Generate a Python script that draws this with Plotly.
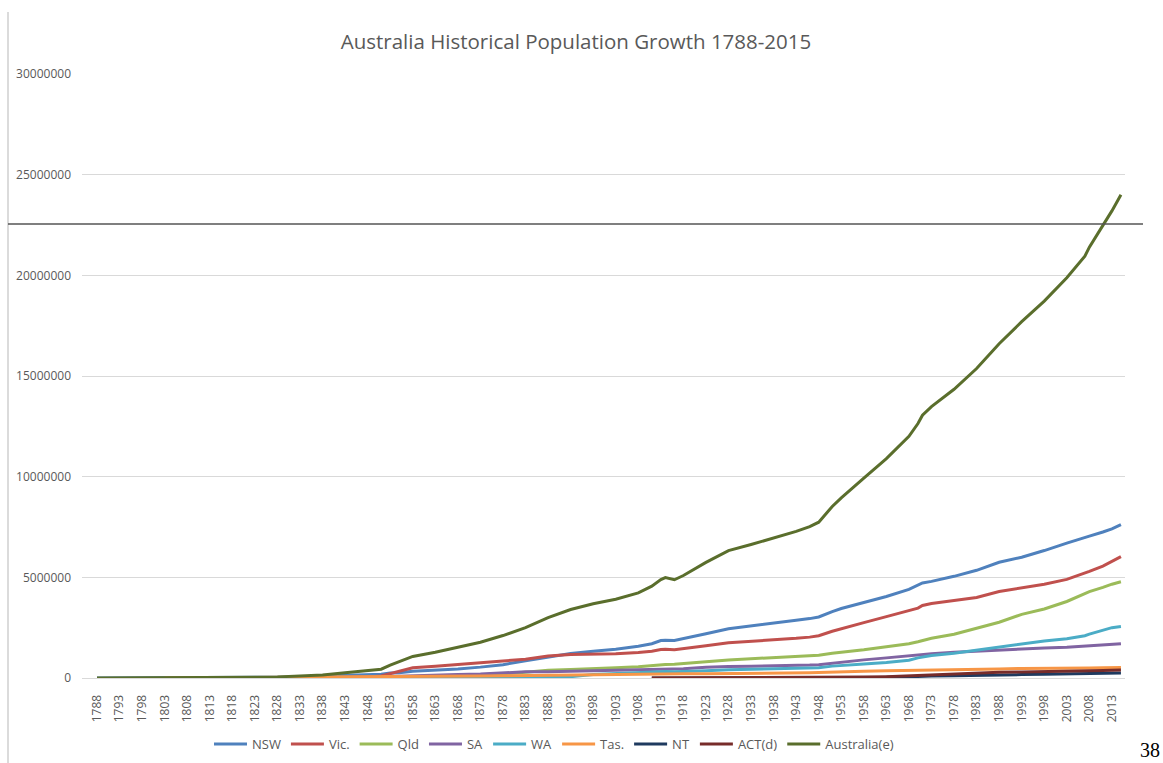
import plotly.graph_objects as go

years = [1788, 1793, 1798, 1803, 1808, 1813, 1818, 1823, 1828, 1833, 1838, 1843, 1848, 1851,
         1853, 1855, 1858, 1863, 1868, 1873, 1878, 1883, 1888, 1893, 1898, 1903, 1908, 1911,
         1913, 1914, 1916, 1918, 1923, 1928, 1933, 1938, 1943, 1946, 1948, 1951, 1953, 1958,
         1963, 1968, 1970, 1971, 1973, 1978, 1983, 1988, 1993, 1998, 2003, 2007, 2008, 2011,
         2013, 2015]

N = None
nsw = [859, 3100, 4600, 6800, 9000, 10500, 21000, 30000, 36600, 60000, 97000, 156000, 197000, 192000,
       252000, 266000, 331000, 378000, 450000, 540000, 660000, 860000, 1030000, 1220000, 1330000, 1430000, 1580000, 1700000,
       1860000, 1880000, 1860000, 1950000, 2200000, 2450000, 2600000, 2750000, 2870000, 2950000, 3030000, 3300000, 3450000, 3750000,
       4050000, 4400000, 4600000, 4720000, 4800000, 5050000, 5350000, 5750000, 6000000, 6330000, 6700000, 6950000, 7050000, 7250000,
       7410000, 7620000]
vic = [N, N, N, N, N, N, N, N, N, N, 3500, 24000, 55000, 97000,
       222000, 340000, 504000, 578000, 680000, 770000, 850000, 930000, 1090000, 1170000, 1180000, 1200000, 1270000, 1330000,
       1410000, 1430000, 1400000, 1450000, 1600000, 1750000, 1820000, 1880000, 1970000, 2030000, 2100000, 2320000, 2450000, 2750000,
       3050000, 3350000, 3470000, 3600000, 3700000, 3850000, 4000000, 4300000, 4470000, 4660000, 4900000, 5200000, 5300000, 5560000,
       5800000, 6030000]
qld = [N, N, N, N, N, N, N, N, N, N, N, 2000, 5000, 9000,
       12000, 17000, 20000, 61000, 100000, 140000, 210000, 290000, 390000, 420000, 480000, 510000, 560000, 620000,
       660000, 675000, 680000, 710000, 810000, 900000, 950000, 1000000, 1060000, 1100000, 1130000, 1230000, 1270000, 1400000,
       1550000, 1700000, 1800000, 1850000, 1970000, 2170000, 2480000, 2770000, 3160000, 3430000, 3800000, 4180000, 4290000, 4500000,
       4660000, 4780000]
sa = [N, N, N, N, N, N, N, N, N, N, 6000, 17000, 38000, 66000,
      79000, 96000, 118000, 148000, 175000, 198000, 250000, 305000, 315000, 340000, 360000, 370000, 395000, 420000,
      440000, 440000, 435000, 465000, 530000, 575000, 582000, 595000, 615000, 640000, 660000, 740000, 780000, 900000,
      1000000, 1100000, 1150000, 1180000, 1210000, 1280000, 1340000, 1400000, 1460000, 1490000, 1530000, 1580000, 1600000, 1650000,
      1680000, 1700000]
wa = [N, N, N, N, N, N, N, N, N, 1800, 2200, 4000, 4600, 7000,
      9000, 13000, 14000, 18000, 22000, 25000, 28000, 32000, 42000, 65000, 168000, 225000, 265000, 290000,
      320000, 320000, 305000, 315000, 355000, 410000, 440000, 465000, 480000, 500000, 515000, 590000, 630000, 700000,
      770000, 880000, 1000000, 1050000, 1120000, 1230000, 1380000, 1550000, 1700000, 1840000, 1950000, 2100000, 2180000, 2350000,
      2500000, 2560000]
tas = [N, N, N, 400, 1500, 2000, 3800, 10000, 18000, 33000, 44000, 57000, 70000, 69000,
       66000, 70000, 85000, 92000, 100000, 104000, 110000, 125000, 145000, 155000, 172000, 180000, 186000, 194000,
       197000, 199000, 197000, 205000, 214000, 216000, 228000, 238000, 247000, 260000, 268000, 295000, 310000, 340000,
       360000, 385000, 393000, 398000, 405000, 418000, 435000, 450000, 472000, 471000, 480000, 495000, 500000, 511000,
       513000, 517000]
nt = [N, N, N, N, N, N, N, N, N, N, N, N, N, N,
      N, N, N, N, N, N, N, N, N, N, N, N, N, 3300,
      3700, 4300, 4800, 4800, 3900, 4500, 5000, 6500, 7000, 10000, 12000, 15000, 17000, 22000,
      32000, 60000, 78000, 86000, 98000, 110000, 140000, 157000, 171000, 190000, 200000, 215000, 220000, 232000,
      240000, 245000]
act = [N, N, N, N, N, N, N, N, N, N, N, N, N, N,
       N, N, N, N, N, N, N, N, N, N, N, N, N, 1700,
       1900, 2000, 2300, 2500, 3000, 8000, 9000, 11500, 14000, 16000, 17000, 24000, 29000, 45000,
       68000, 110000, 140000, 151000, 180000, 225000, 245000, 280000, 300000, 310000, 323000, 343000, 350000, 370000,
       385000, 395000]
australia = [859, 3100, 4600, 7200, 10500, 12500, 24800, 40000, 55000, 95000, 153000, 260000, 370000, 438000,
             640000, 802000, 1072000, 1275000, 1527000, 1777000, 2108000, 2500000, 3000000, 3400000, 3690000, 3915000, 4230000, 4560000,
             4890000, 4990000, 4880000, 5090000, 5740000, 6330000, 6630000, 6940000, 7280000, 7520000, 7740000, 8520000, 8950000, 9930000,
             10900000, 12000000, 12640000, 13050000, 13480000, 14340000, 15370000, 16600000, 17700000, 18720000, 19880000, 20950000, 21400000, 22480000,
             23200000, 24000000]

series_names = ["NSW", "Vic.", "Qld", "SA", "WA", "Tas.", "NT", "ACT(d)", "Australia(e)"]
series_values = [nsw, vic, qld, sa, wa, tas, nt, act, australia]
series_colors = ["#4F81BD", "#C0504D", "#9BBB59", "#8064A2", "#4BACC6", "#F79646", "#1F3A5F", "#772C2A", "#5A6E2C"]

tick_years = list(range(1788, 2014, 5))
tick_labels = [str(y) for y in tick_years]
y_ticks = [0, 5000000, 10000000, 15000000, 20000000, 25000000, 30000000]
y_labels = [str(v) for v in y_ticks]

txt = "#595959"
fig = go.Figure()
for name, vals, col in zip(series_names, series_values, series_colors):
    fig.add_trace(go.Scatter(x=years, y=vals, name=name, mode="lines",
                             line=dict(color=col, width=3), connectgaps=False))

W, H = 1163, 763
L, R, T, B = 82, 38, 74, 85
pw, ph = W - L - R, H - T - B

fig.update_layout(
    width=W, height=H,
    margin=dict(l=L, r=R, t=T, b=B, autoexpand=False),
    paper_bgcolor="white", plot_bgcolor="white",
    font=dict(family="Open Sans, Lato, sans-serif", size=12, color=txt),
    title=dict(text="Australia Historical Population Growth 1788-2015",
               x=576 / W, xref="container", xanchor="center",
               y=1 - 42 / H, yref="container", yanchor="middle",
               font=dict(family="Open Sans, sans-serif", size=20.5, color=txt)),
    showlegend=True,
    legend=dict(orientation="h", xref="container", x=554 / W, xanchor="center",
                yref="container", y=1 - 744 / H, yanchor="middle",
                font=dict(size=13, color=txt), itemwidth=33,
                bgcolor="rgba(0,0,0,0)"),
    xaxis=dict(range=[1784.67, 2015.9], tickmode="array", tickvals=tick_years,
               ticktext=tick_labels, tickangle=-90, showgrid=False,
               showline=True, linecolor="#d9d9d9", linewidth=1, ticks="",
               ticklabelstandoff=11, zeroline=False, automargin=False,
               tickfont=dict(size=12, color=txt)),
    yaxis=dict(range=[0, 30000000], tickmode="array", tickvals=y_ticks,
               ticktext=y_labels, showgrid=True, gridcolor="#d9d9d9", gridwidth=1,
               zeroline=False, ticks="", ticklabelstandoff=10, automargin=False,
               tickfont=dict(size=12, color=txt)),
)

# scan artifacts: left border line and horizontal rule
fig.add_shape(type="line", xref="paper", yref="paper",
              x0=(8 - L) / pw, x1=(8 - L) / pw, y0=(H - B - 12) / ph, y1=(H - B - H) / ph,
              line=dict(color="#cfcfcf", width=1.5))
fig.add_shape(type="line", xref="paper", yref="paper",
              x0=(8 - L) / pw, x1=(1143 - L) / pw, y0=(H - B - 224) / ph, y1=(H - B - 224) / ph,
              line=dict(color="#555555", width=1.5))
fig.add_annotation(text="38", xref="paper", yref="paper",
                   x=(1150 - L) / pw, y=(H - B - 750) / ph, showarrow=False,
                   xanchor="center", yanchor="middle",
                   font=dict(family="Liberation Serif, serif", size=20, color="black"))

fig.write_html("out.html", config={"displayModeBar": False},
               post_script="document.body.style.margin='0';document.body.style.overflow='hidden';")
